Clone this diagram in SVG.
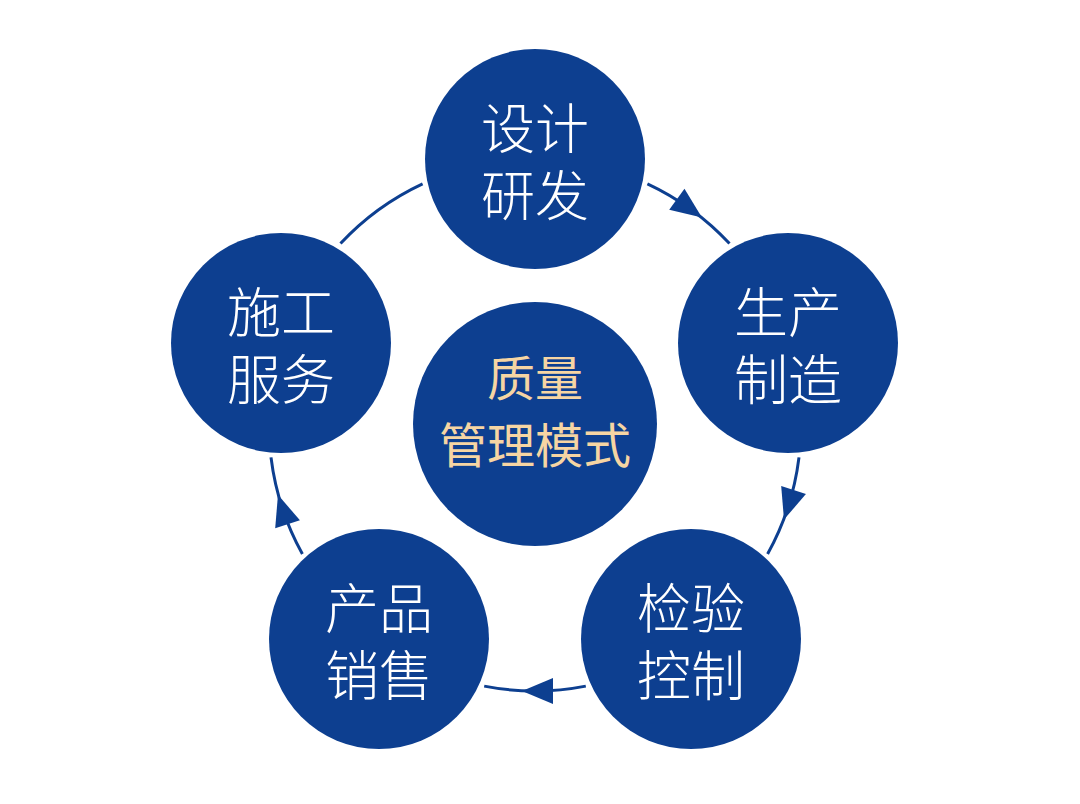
<svg xmlns="http://www.w3.org/2000/svg" width="1080" height="804" viewBox="0 0 1080 804">
<style>
.node{fill:#0d3f90}
.lbl{font-family:"Noto Sans CJK SC","Noto Sans",sans-serif;font-size:54px;font-weight:300;fill:#ffffff;text-anchor:middle}
.clbl{font-family:"Noto Sans CJK SC","Noto Sans",sans-serif;font-size:48px;font-weight:400;fill:#f6d5a3;text-anchor:middle}
.arc{fill:none;stroke:#0d3f90;stroke-width:3}
.head{fill:#0d3f90}
</style>
<defs>
<polygon id="ah" points="13,0 -18,-13 -18,13"/>
</defs>
<rect width="1080" height="804" fill="#ffffff"/>
<g id="connectors">
<path class="arc" d="M340.5,243.6 A266,266 0 0 1 422.6,183.9"/>
<path class="arc" d="M647.4,183.9 A266,266 0 0 1 729.5,243.6"/>
<path class="arc" d="M799.0,457.4 A266,266 0 0 1 767.6,554.0"/>
<path class="arc" d="M585.8,686.1 A266,266 0 0 1 484.2,686.1"/>
<path class="arc" d="M302.4,554.0 A266,266 0 0 1 271.0,457.4"/>
<use href="#ah" class="head" transform="translate(691.4,209.8) rotate(36)"/>
<use href="#ah" class="head" transform="translate(788,507.2) rotate(108)"/>
<use href="#ah" class="head" transform="translate(535,691) rotate(180)"/>
<use href="#ah" class="head" transform="translate(282,507.2) rotate(252)"/>
</g>
<g id="center">
<circle class="node" cx="535" cy="424" r="122"/>
<text class="clbl" x="535" y="396">质量</text>
<text class="clbl" x="535" y="463">管理模式</text>
</g>
<g id="design">
<circle class="node" cx="535" cy="159" r="110"/>
<text class="lbl" x="535" y="149">设计</text>
<text class="lbl" x="535" y="216">研发</text>
</g>
<g id="production">
<circle class="node" cx="788" cy="343" r="110"/>
<text class="lbl" x="788" y="333">生产</text>
<text class="lbl" x="788" y="400">制造</text>
</g>
<g id="inspection">
<circle class="node" cx="691" cy="639" r="110"/>
<text class="lbl" x="691" y="629">检验</text>
<text class="lbl" x="691" y="696">控制</text>
</g>
<g id="sales">
<circle class="node" cx="379" cy="639" r="110"/>
<text class="lbl" x="379" y="629">产品</text>
<text class="lbl" x="379" y="696">销售</text>
</g>
<g id="service">
<circle class="node" cx="281" cy="343" r="110"/>
<text class="lbl" x="281" y="333">施工</text>
<text class="lbl" x="281" y="400">服务</text>
</g>
</svg>
